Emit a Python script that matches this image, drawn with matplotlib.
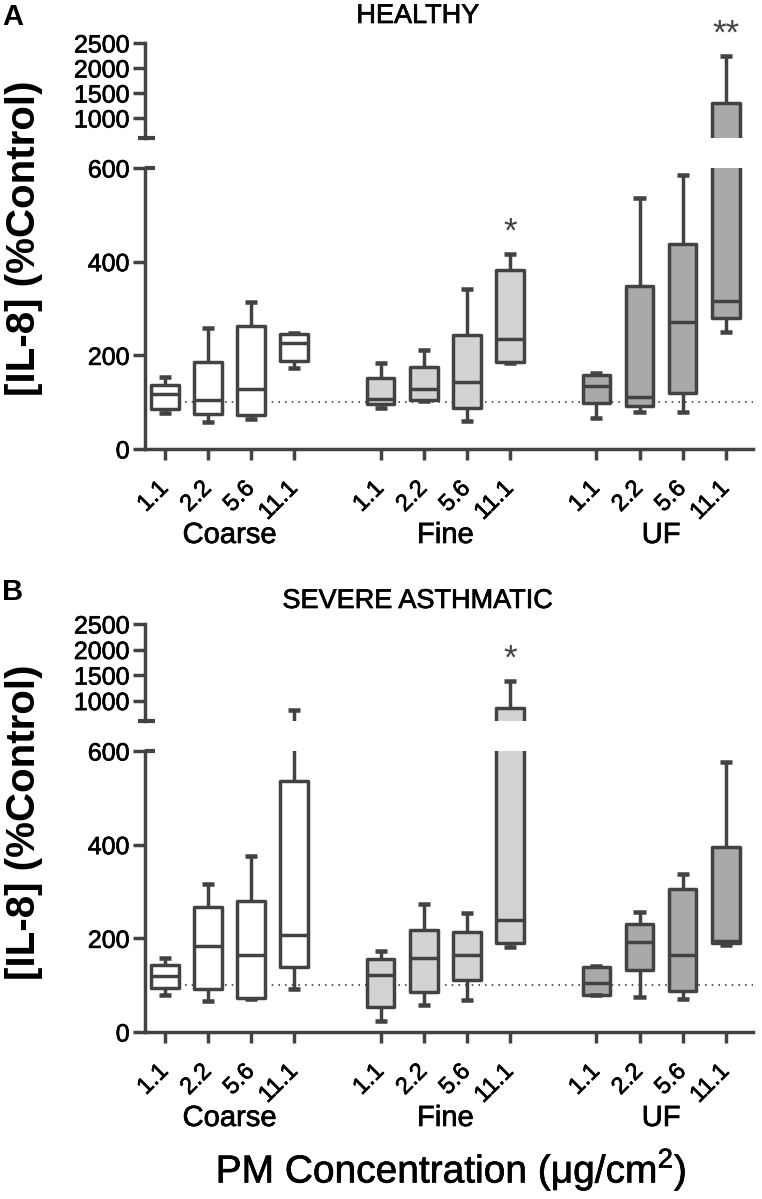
import matplotlib
matplotlib.use("Agg")
import matplotlib.pyplot as plt
from matplotlib.lines import Line2D
from matplotlib.transforms import blended_transform_factory
import matplotlib.patheffects as pe

plt.rcParams['font.family'] = ['Liberation Sans', 'DejaVu Sans']

# ---------------- data ----------------
groups = ["Coarse", "Fine", "UF"]
concs = ["1.1", "2.2", "5.6", "11.1"]
group_fill = ["#ffffff", "#d3d3d3", "#a9a9a9"]

# order: Coarse 1.1..11.1, Fine 1.1..11.1, UF 1.1..11.1
healthy_min = [77, 57, 64, 172, 88, 103, 60, 183, 67, 78, 78, 249]
healthy_q1 = [86, 74, 73, 188, 96, 105, 87, 185, 99, 92, 119, 280]
healthy_med = [117, 105, 128, 226, 106, 128, 144, 235, 135, 112, 272, 315]
healthy_q3 = [137, 185, 263, 245, 151, 176, 243, 382, 158, 349, 438, 1294]
healthy_max = [153, 258, 313, 248, 184, 211, 342, 416, 163, 535, 586, 2246]
healthy_sig = ["", "", "", "", "", "", "", "*", "", "", "", "**"]

asthma_min = [80, 67, 71, 92, 24, 57, 69, 181, 79, 74, 70, 185]
asthma_q1 = [94, 92, 73, 139, 53, 86, 112, 190, 80, 133, 87, 189]
asthma_med = [119, 184, 165, 207, 122, 157, 165, 240, 105, 193, 165, 195]
asthma_q3 = [143, 267, 279, 535, 156, 218, 213, 850, 139, 230, 305, 396]
asthma_max = [159, 316, 376, 816, 172, 273, 254, 1386, 141, 257, 338, 577]
asthma_sig = ["", "", "", "", "", "", "", "*", "", "", "", ""]

control_level = 100
lower_ticks = [0, 200, 400, 600]
upper_ticks = [1000, 1500, 2000, 2500]
break_low, break_high = 600, 2500

# ---------------- style ----------------
EC = "#424242"
LW = 2.5
FIG_W, FIG_H = 762, 1199
positions = [1, 2, 3, 4, 6, 7, 8, 9, 11, 12, 13, 14]
xlim = (0.54, 14.63)
thick = [pe.withStroke(linewidth=0.5, foreground='black')]

fig = plt.figure(figsize=(FIG_W / 100, FIG_H / 100), dpi=100)


def px_axes(left, right, top, bottom):
    return [left / FIG_W, 1 - bottom / FIG_H, (right - left) / FIG_W, (bottom - top) / FIG_H]


def draw_boxes(ax, idx, mins, q1s, meds, q3s, maxs):
    stats = [dict(med=meds[i], q1=q1s[i], q3=q3s[i], whislo=mins[i], whishi=maxs[i], fliers=[])
             for i in idx]
    pos = [positions[i] for i in idx]
    bp = ax.bxp(stats, positions=pos, widths=0.64, capwidths=0.28,
                patch_artist=True, showfliers=False, manage_ticks=False,
                boxprops=dict(linewidth=LW, edgecolor=EC, joinstyle='round'),
                medianprops=dict(linewidth=LW, color=EC, solid_capstyle='butt'),
                whiskerprops=dict(linewidth=LW, color=EC, solid_capstyle='butt'),
                capprops=dict(linewidth=LW * 1.3, color=EC, solid_capstyle='butt'),
                zorder=3)
    for patch, i in zip(bp['boxes'], idx):
        patch.set_facecolor(group_fill[i // 4])


def draw_panel(low_rect, up_rect, mins, q1s, meds, q3s, maxs, sigs, title, title_y, letter, letter_y, label_y):
    ax_lo = fig.add_axes(low_rect)
    ax_up = fig.add_axes(up_rect)
    all_idx = list(range(len(positions)))
    draw_boxes(ax_lo, all_idx, mins, q1s, meds, q3s, maxs)
    draw_boxes(ax_up, [i for i in all_idx if maxs[i] > break_low], mins, q1s, meds, q3s, maxs)
    for ax in (ax_lo, ax_up):
        ax.set_xlim(*xlim)
        for s in ['top', 'right']:
            ax.spines[s].set_visible(False)
        ax.spines['left'].set_linewidth(LW)
        ax.spines['left'].set_color(EC)
        ax.tick_params(axis='y', length=9, width=LW, color=EC, labelsize=18, pad=2)
        for lab in ax.get_yticklabels():
            lab.set_path_effects(thick)

    ax_lo.set_ylim(0, break_low)
    ax_lo.set_yticks(lower_ticks)
    ax_lo.spines['bottom'].set_linewidth(LW)
    ax_lo.spines['bottom'].set_color(EC)
    ax_lo.set_xticks(positions)
    ax_lo.set_xticklabels(concs * 3, rotation=45, ha='right', va='center',
                          rotation_mode='anchor', fontsize=17)
    for lab in ax_lo.get_xticklabels():
        lab.set_path_effects(thick)
    ax_lo.tick_params(axis='x', length=8, width=LW, color=EC, pad=18)
    ax_lo.axhline(control_level, color=EC, lw=1.2, ls=(0, (1, 3)), zorder=1)

    ax_up.set_ylim(break_low, break_high)
    ax_up.set_yticks(upper_ticks)
    ax_up.spines['bottom'].set_visible(False)
    ax_up.set_xticks([])

    # break marks
    ax_lo.add_line(Line2D([0, 0.0165], [1, 1], transform=ax_lo.transAxes, color=EC,
                          lw=LW * 1.2, clip_on=False, solid_capstyle='butt'))
    ax_up.add_line(Line2D([-0.012, 0.0165], [0, 0], transform=ax_up.transAxes, color=EC,
                          lw=LW * 1.2, clip_on=False, solid_capstyle='butt'))

    # significance stars
    for i, s in enumerate(sigs):
        if not s:
            continue
        ax = ax_up if maxs[i] > break_low else ax_lo
        ax.annotate(s, xy=(positions[i], maxs[i]), xytext=(0, 4), textcoords='offset points',
                    ha='center', va='bottom', fontsize=25, color=EC, annotation_clip=False)

    # group labels (86 px below the x axis)
    trans = blended_transform_factory(ax_lo.transData, ax_lo.transAxes)
    lo_h_px = low_rect[3] * FIG_H
    for g, name in enumerate(groups):
        xc = sum(positions[g * 4:(g + 1) * 4]) / 4
        ax_lo.text(xc, -86 / lo_h_px, name, transform=trans, ha='center', va='center',
                   fontsize=21, path_effects=thick)

    fig.text(418 / FIG_W, 1 - title_y / FIG_H, title, ha='center', va='center', fontsize=19.5,
             path_effects=thick)
    fig.text(2 / FIG_W, 1 - letter_y / FIG_H, letter, ha='left', va='center', fontsize=21, fontweight='bold')
    fig.text(24 / FIG_W, 1 - label_y / FIG_H, "[IL-8] (%Control)", rotation=90, ha='center', va='center',
             fontsize=29, fontweight='bold')
    return ax_lo, ax_up


draw_panel(px_axes(145, 753, 168, 449), px_axes(145, 753, 43, 138),
           healthy_min, healthy_q1, healthy_med, healthy_q3, healthy_max, healthy_sig,
           "HEALTHY", 16, "A", 17, 238)
draw_panel(px_axes(145, 753, 751, 1032), px_axes(145, 753, 624, 721),
           asthma_min, asthma_q1, asthma_med, asthma_q3, asthma_max, asthma_sig,
           "SEVERE ASTHMATIC", 601, "B", 592, 822)

fig.text(451 / FIG_W, 1 - 1170 / FIG_H, r"PM Concentration ($\mathregular{\mu}$g/cm$^{\mathregular{2}}$)",
         ha='center', va='center', fontsize=28, path_effects=thick)

fig.savefig("out.png", dpi=100)
